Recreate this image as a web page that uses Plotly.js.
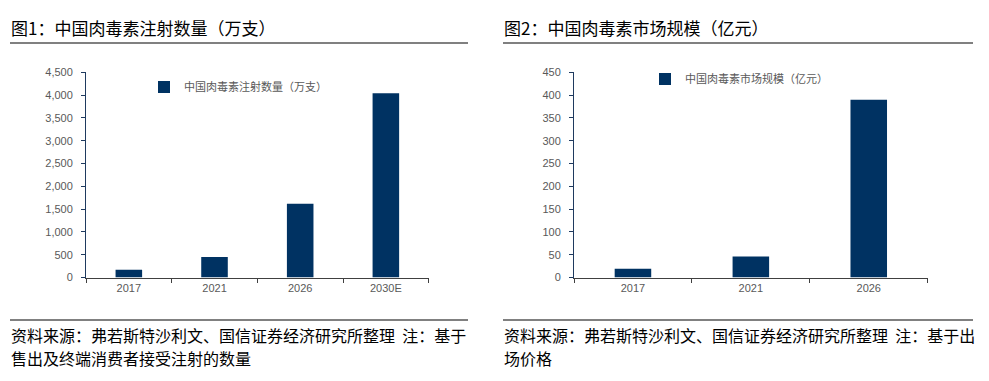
<!DOCTYPE html>
<html>
<head>
<meta charset="utf-8">
<script src="https://cdn.plot.ly/plotly-3.0.1.min.js"></script>
<style>html,body{margin:0;padding:0;background:#fff;}#chart{width:989px;height:381px;}</style>
</head>
<body>
<div id="chart"></div>
<script>
// ---- data ----
const years1 = ['2017', '2021', '2026', '2030E'];
const injections = [170, 450, 1620, 4040];          // 万支
const years2 = ['2017', '2021', '2026'];
const marketSize = [19, 46, 390];                   // 亿元

const title1 = '图1：中国肉毒素注射数量（万支）';
const title2 = '图2：中国肉毒素市场规模（亿元）';
const series1 = '中国肉毒素注射数量（万支）';
const series2 = '中国肉毒素市场规模（亿元）';
const note1a = '资料来源：弗若斯特沙利文、国信证券经济研究所整理&nbsp; 注：基于';
const note1b = '售出及终端消费者接受注射的数量';
const note2a = '资料来源：弗若斯特沙利文、国信证券经济研究所整理&nbsp; 注：基于出';
const note2b = '场价格';

const W = 989, H = 381;
const px = v => v / W;
const py = v => 1 - v / H;
const barColor = '#003262';
const cjk = '"Noto Sans CJK SC", "Noto Sans", sans-serif';
const tickFont = {family: 'Liberation Sans, Arial, sans-serif', size: 11, color: '#595959'};

const traces = [
  {type: 'bar', x: years1, y: injections, name: series1, xaxis: 'x', yaxis: 'y',
   marker: {color: barColor}, width: 0.31, legend: 'legend', hoverinfo: 'x+y'},
  {type: 'bar', x: years2, y: marketSize, name: series2, xaxis: 'x2', yaxis: 'y2',
   marker: {color: barColor}, width: 0.31, legend: 'legend2', hoverinfo: 'x+y'}
];

const yDomain = [py(277.5), py(72.3)];
const xCommon = {
  type: 'category', showgrid: false, zeroline: false, showline: true,
  linecolor: '#404040', linewidth: 1, ticks: 'outside', tickson: 'boundaries',
  ticklen: 4, tickcolor: '#404040', tickfont: tickFont, fixedrange: true
};
const yCommon = {
  showgrid: false, zeroline: false, showline: true, linecolor: '#1f3a5f', linewidth: 1,
  ticks: 'outside', ticklen: 4, tickcolor: '#1f3a5f', tickfont: tickFont,
  domain: yDomain, ticklabelstandoff: 6, fixedrange: true
};

function note(text, x, y) {
  return {text: text, xref: 'paper', yref: 'paper', x: px(x), y: py(y), xanchor: 'left', yanchor: 'middle',
          align: 'left', showarrow: false, font: {family: cjk, size: 16, color: '#000000'}};
}

const layout = {
  width: W, height: H,
  margin: {l: 0, r: 0, t: 0, b: 0},
  paper_bgcolor: '#ffffff', plot_bgcolor: '#ffffff',
  showlegend: true,
  xaxis: Object.assign({}, xCommon, {domain: [px(86), px(428.7)], anchor: 'y'}),
  yaxis: Object.assign({}, yCommon, {anchor: 'x', range: [0, 4500], dtick: 500, tickformat: ','}),
  xaxis2: Object.assign({}, xCommon, {domain: [px(574), px(927.7)], anchor: 'y2'}),
  yaxis2: Object.assign({}, yCommon, {anchor: 'x2', range: [0, 450], dtick: 50}),
  legend: {x: px(144), y: py(87), xanchor: 'left', yanchor: 'middle', bgcolor: 'rgba(0,0,0,0)',
           font: {family: cjk, size: 11, color: '#595959'}, itemwidth: 30},
  legend2: {x: px(645), y: py(79), xanchor: 'left', yanchor: 'middle', bgcolor: 'rgba(0,0,0,0)',
            font: {family: cjk, size: 11, color: '#595959'}, itemwidth: 30},
  shapes: [
    {type: 'line', xref: 'paper', yref: 'paper', x0: px(10), x1: px(468), y0: py(43), y1: py(43), line: {color: '#808080', width: 2}},
    {type: 'line', xref: 'paper', yref: 'paper', x0: px(503), x1: px(973), y0: py(43), y1: py(43), line: {color: '#808080', width: 2}},
    {type: 'line', xref: 'paper', yref: 'paper', x0: px(10), x1: px(468), y0: py(320), y1: py(320), line: {color: '#808080', width: 2}},
    {type: 'line', xref: 'paper', yref: 'paper', x0: px(503), x1: px(973), y0: py(320), y1: py(320), line: {color: '#808080', width: 2}}
  ],
  annotations: [
    {text: title1, xref: 'paper', yref: 'paper', x: px(9), y: py(28), xanchor: 'left', yanchor: 'middle', showarrow: false,
     font: {family: cjk, size: 17, color: '#000000'}},
    {text: title2, xref: 'paper', yref: 'paper', x: px(502), y: py(28), xanchor: 'left', yanchor: 'middle', showarrow: false,
     font: {family: cjk, size: 17, color: '#000000'}},
    note(note1a, 9, 335), note(note1b, 9, 358),
    note(note2a, 502, 335), note(note2b, 502, 358)
  ]
};

Plotly.newPlot('chart', traces, layout, {staticPlot: true, displayModeBar: false});
</script>
</body>
</html>
